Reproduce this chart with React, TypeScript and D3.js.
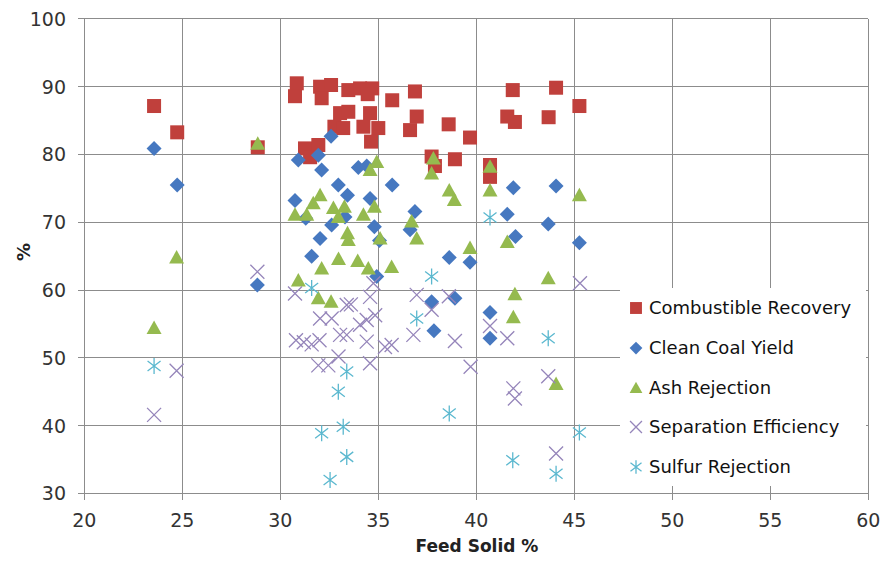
import React from "react";
import * as d3 from "d3";

const xTicks = [20, 25, 30, 35, 40, 45, 50, 55, 60];
const yTicks = [30, 40, 50, 60, 70, 80, 90, 100];

const combustibleRecovery: [number, number][] = [
  [23.56, 87.15], [24.74, 83.27], [28.85, 81.06],
  [30.84, 90.5], [30.75, 88.6], [32.03, 90.0], [32.59, 90.25], [32.11, 88.3],
  [33.47, 89.5], [34.07, 89.75], [34.69, 89.75], [34.46, 88.9], [35.71, 88.0], [36.87, 89.3],
  [33.05, 86.1], [33.47, 86.3], [32.76, 84.1], [33.21, 83.9], [34.58, 86.1], [34.24, 84.1],
  [35.0, 83.9], [34.63, 81.9], [36.96, 85.6], [36.62, 83.6],
  [31.26, 80.9], [31.94, 81.4], [31.52, 79.6],
  [38.59, 84.45], [39.68, 82.5], [41.86, 89.5], [44.07, 89.85], [45.26, 87.15],
  [41.58, 85.6], [41.97, 84.8], [43.69, 85.5],
  [37.72, 79.7], [37.89, 78.3], [38.91, 79.3], [40.7, 78.45], [40.7, 76.7],
];

const cleanCoalYield: [number, number][] = [
  [23.56, 80.9], [24.74, 75.5], [28.83, 60.75],
  [32.59, 82.7], [30.92, 79.2], [31.94, 79.9], [32.11, 77.7], [33.98, 78.1], [34.41, 78.3],
  [35.71, 75.5], [32.96, 75.5], [33.43, 74.0], [30.75, 73.2], [34.58, 73.5],
  [31.3, 70.6], [32.62, 69.6], [34.8, 69.35], [32.03, 67.6], [31.6, 65.0],
  [36.87, 71.6], [36.62, 68.9], [33.3, 70.8], [35.06, 67.3], [34.92, 62.0],
  [41.89, 75.1], [44.07, 75.35], [41.58, 71.2], [43.67, 69.75], [42.0, 67.9], [45.26, 67.0],
  [38.62, 64.8], [39.68, 64.1],
  [37.72, 58.3], [38.91, 58.8], [37.84, 54.0], [40.7, 56.7], [40.7, 52.9],
];

const ashRejection: [number, number][] = [
  [23.56, 54.4], [24.71, 64.8], [28.85, 81.6],
  [34.92, 78.9], [34.58, 77.7], [32.03, 74.0], [31.68, 72.8], [30.75, 71.1], [31.35, 71.1],
  [32.71, 72.1], [33.27, 72.3], [32.96, 70.8], [34.24, 71.1], [34.8, 72.3], [33.43, 68.4],
  [33.47, 67.4], [35.09, 67.6], [36.7, 70.1], [36.96, 67.6],
  [32.97, 64.6], [33.95, 64.3], [34.49, 63.2], [35.68, 63.4], [32.11, 63.2], [30.92, 61.4],
  [31.94, 58.8], [32.59, 58.3],
  [37.81, 79.4], [37.72, 77.2], [38.62, 74.7], [38.88, 73.3], [40.7, 78.2], [40.7, 74.7],
  [45.26, 74.0], [41.58, 67.1], [39.68, 66.2],
  [43.67, 61.75], [41.97, 59.4], [41.89, 56.0], [44.07, 46.15],
];

const separationEfficiency: [number, number][] = [
  [23.56, 41.6], [24.71, 48.1], [28.83, 62.7], [30.75, 59.5],
  [30.8, 52.6], [31.2, 52.3], [31.6, 52.0], [32.0, 52.6],
  [32.03, 55.8], [32.62, 55.8], [33.39, 57.8], [33.05, 53.4], [33.39, 53.4],
  [31.94, 48.9], [32.45, 48.9], [32.97, 50.2], [34.07, 54.9], [34.41, 55.6], [34.84, 56.3],
  [34.58, 59.0], [34.75, 61.0], [34.41, 52.4], [35.34, 51.6], [35.68, 51.9], [34.58, 49.2],
  [36.79, 53.4], [36.96, 59.3], [33.6, 57.9],
  [37.72, 57.1], [38.6, 59.1], [38.91, 52.5], [39.71, 48.7], [40.7, 54.7], [41.58, 52.9],
  [41.89, 45.5], [41.97, 44.0], [43.67, 47.3], [44.07, 35.9], [45.29, 61.0],
];

const sulfurRejection: [number, number][] = [
  [23.56, 48.8], [31.6, 60.3], [33.39, 48.0], [32.96, 45.0], [33.21, 39.85], [32.11, 38.9],
  [33.39, 35.4], [32.54, 32.0], [36.96, 55.8], [37.72, 62.0], [40.7, 70.7], [43.67, 52.9],
  [38.62, 41.8], [45.26, 39.0], [41.86, 34.9], [44.07, 32.9],
];

const seriesNames = [
  "Combustible Recovery",
  "Clean Coal Yield",
  "Ash Rejection",
  "Separation Efficiency",
  "Sulfur Rejection",
];

const W = 884;
const H = 572;
const FONT = "'DejaVu Sans', sans-serif";

const RED = "#C0403C";
const BLUE = "#4678C0";
const GREEN = "#95BA4F";
const PURPLE = "#9585BA";
const AQUA = "#5BB8CF";

function Marker({ kind, s = 1 }: { kind: number; s?: number }) {
  if (kind === 0) return <rect x={-7 * s} y={-7 * s} width={14 * s} height={14 * s} fill={RED} />;
  if (kind === 1)
    return <path d={`M0,${-7.5 * s}L${7.5 * s},0L0,${7.5 * s}L${-7.5 * s},0Z`} fill={BLUE} />;
  if (kind === 2)
    return <path d={`M0,${-7.5 * s}L${7.5 * s},${6 * s}L${-7.5 * s},${6 * s}Z`} fill={GREEN} />;
  if (kind === 3)
    return (
      <path
        d={`M${-7 * s},${-7 * s}L${7 * s},${7 * s}M${-7 * s},${7 * s}L${7 * s},${-7 * s}`}
        stroke={PURPLE}
        strokeWidth={1.3}
        fill="none"
      />
    );
  return (
    <path
      d={`M0,${-8 * s}L0,${8 * s}M${-6.5 * s},${-5 * s}L${6.5 * s},${5 * s}M${-6.5 * s},${5 * s}L${6.5 * s},${-5 * s}`}
      stroke={AQUA}
      strokeWidth={1.3}
      fill="none"
    />
  );
}

export default function App() {
  const x = d3.scaleLinear().domain([20, 60]).range([84.3, 868.3]);
  const y = d3.scaleLinear().domain([30, 100]).range([493.5, 18.9]);
  const all = [combustibleRecovery, cleanCoalYield, ashRejection, separationEfficiency, sulfurRejection];
  const grid = "#8C8C8C";

  const legX = 620;
  const legY = 288;
  const legRows = [308, 348, 388, 427, 467];

  return (
    <svg
      width={W}
      height={H}
      style={{ position: "absolute", left: 0, top: 0, background: "#fff" }}
      fontFamily={FONT}
    >
      <rect x={0} y={0} width={W} height={H} fill="#fff" />
      {/* grid */}
      {yTicks.map((t) => (
        <line key={"gy" + t} x1={x(20) - 6} x2={x(60)} y1={y(t)} y2={y(t)} stroke={grid} strokeWidth={1} shapeRendering="crispEdges" />
      ))}
      {xTicks.map((t) => (
        <line key={"gx" + t} x1={x(t)} x2={x(t)} y1={y(100)} y2={y(30) + 6} stroke={grid} strokeWidth={1} shapeRendering="crispEdges" />
      ))}
      {/* tick labels */}
      {yTicks.map((t) => (
        <text key={"ly" + t} x={66} y={y(t)} dy="0.36em" textAnchor="end" fontSize={19} fill="#333">
          {t}
        </text>
      ))}
      {xTicks.map((t) => (
        <text key={"lx" + t} x={x(t)} y={527} textAnchor="middle" fontSize={19} fill="#333">
          {t}
        </text>
      ))}
      <text x={477} y={552} textAnchor="middle" fontSize={17} fontWeight="bold" fill="#222">
        Feed Solid %
      </text>
      <text transform="translate(24,252) rotate(-90)" textAnchor="middle" dy="0.36em" fontSize={18} fontWeight="bold" fill="#222">
        %
      </text>
      {/* data */}
      {all.map((data, k) => (
        <g key={"s" + k}>
          {data.map((d, i) => (
            <g key={i} transform={`translate(${x(d[0])},${y(d[1])})`}>
              <Marker kind={k} />
            </g>
          ))}
        </g>
      ))}
      {/* legend */}
      <rect x={legX} y={legY} width={866 - legX} height={486 - legY} fill="#fff" />
      {seriesNames.map((n, k) => (
        <g key={"lg" + k} transform={`translate(0,${legRows[k]})`}>
          <g transform="translate(636,0)">
            <Marker kind={k} s={0.85} />
          </g>
          <text x={649} y={0} dy="0.36em" fontSize={18} fill="#111">
            {n}
          </text>
        </g>
      ))}
    </svg>
  );
}
